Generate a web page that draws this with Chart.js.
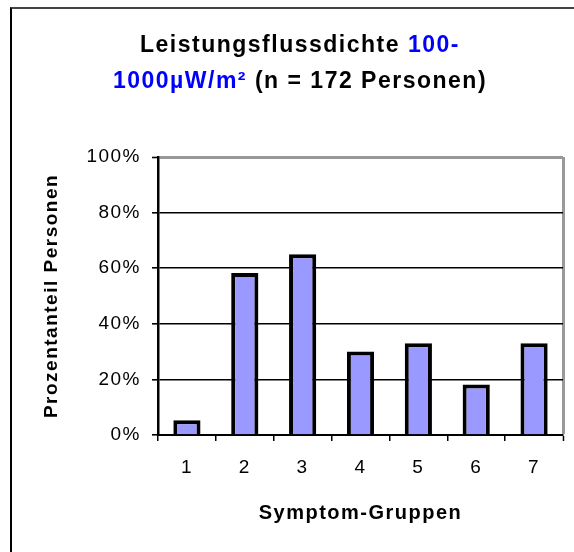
<!DOCTYPE html>
<html>
<head>
    <title>Leistungsflussdichte</title>
    <script src="https://cdn.jsdelivr.net/npm/chart.js@4.4.0/dist/chart.umd.min.js"></script>
    <style>
        body { margin: 0; background: #fff; }
        .wrap { position: relative; width: 574px; height: 552px; overflow: hidden; }
        .frame {
            position: absolute; left: 10px; top: 7px; width: 700px; height: 700px;
            border-left: 2px solid #000; border-top: 2px solid #444;
            pointer-events: none;
        }
        .title {
            position: absolute; left: 0; top: 26px; width: 600px;
            text-align: center;
            font: bold 23px "Liberation Sans", Arial, sans-serif;
            line-height: 36px; letter-spacing: 1.5px; color: #000;
        }
        .title .blue { color: #0000ff; }
        canvas { position: absolute; left: 0; top: 0; }
    </style>
</head>
<body>
<div class="wrap">
    <canvas id="chart" width="574" height="552"></canvas>
    <div class="frame"></div>
    <div class="title">Leistungsflussdichte <span class="blue">100-</span><br><span class="blue">1000µW/m²</span> (n = 172 Personen)</div>
</div>

<script>
    // Data
    const groups = ['1', '2', '3', '4', '5', '6', '7'];
    const percentPersons = [5.3, 58.3, 65, 30, 33, 18.2, 33];
    const yTicks = [0, 20, 40, 60, 80, 100];

    const font = 'Liberation Sans, Arial, sans-serif';

    // Spread the letters a bit, like the reference
    const spacing = {
        id: 'spacing',
        beforeLayout(chart) { chart.ctx.letterSpacing = '1.5px'; },
        beforeDraw(chart) { chart.ctx.letterSpacing = '1.5px'; }
    };

    new Chart(document.getElementById('chart'), {
        type: 'bar',
        data: {
            labels: groups,
            datasets: [{
                data: percentPersons,
                backgroundColor: '#9999ff',
                borderColor: '#000',
                borderWidth: 4,
                barPercentage: 0.47,
                categoryPercentage: 1
            }]
        },
        options: {
            responsive: false,
            animation: false,
            layout: { padding: { left: 0, right: 11, top: 157, bottom: 0 } },
            plugins: { legend: { display: false }, tooltip: { enabled: false } },
            scales: {
                x: {
                    afterFit: s => { s.height = 117; },
                    grid: {
                        offset: true,
                        color: c => c.type === 'scale' ? '#999' : 'rgba(0,0,0,0)',
                        lineWidth: c => c.type === 'scale' ? 3 : 1.5,
                        tickColor: '#000',
                        tickWidth: 1.5,
                        tickLength: 6
                    },
                    border: { color: '#000', width: 2 },
                    ticks: { color: '#000', padding: 15, font: { family: font, size: 19 } },
                    title: {
                        display: true,
                        text: 'Symptom-Gruppen',
                        color: '#000',
                        font: { family: font, size: 20, weight: 'bold' },
                        padding: { top: 0, bottom: 27 }
                    }
                },
                y: {
                    min: 0,
                    max: 100,
                    afterFit: s => { s.width = 158; },
                    afterBuildTicks: s => { s.ticks = yTicks.map(v => ({ value: v })); },
                    grid: {
                        color: c => c.tick && c.tick.value === 100 ? '#999' : '#000',
                        lineWidth: c => c.tick && c.tick.value === 100 ? 3 : 1.6,
                        tickColor: '#000',
                        tickWidth: 1.6,
                        tickLength: 6
                    },
                    border: { color: '#000', width: 2.5 },
                    ticks: {
                        color: '#000',
                        padding: 11,
                        font: { family: font, size: 19 },
                        callback: v => v + '%'
                    },
                    title: {
                        display: true,
                        text: 'Prozentanteil Personen',
                        color: '#000',
                        font: { family: font, size: 19, weight: 'bold' },
                        padding: { top: 40, bottom: 0 }
                    }
                }
            }
        },
        plugins: [spacing]
    });
</script>
</body>
</html>
